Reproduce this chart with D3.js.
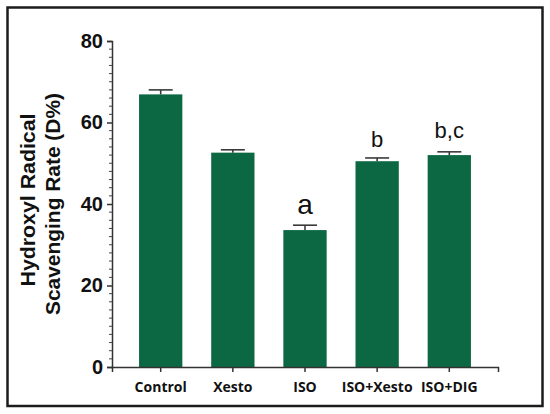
<!DOCTYPE html>
<html><head><meta charset="utf-8">
<script src="https://cdn.jsdelivr.net/npm/d3@7"></script>
<style>body{margin:0;background:#fff}</style>
</head><body>
<svg id="c" width="550" height="414"></svg>
<script>
const categories = ["Control", "Xesto", "ISO", "ISO+Xesto", "ISO+DIG"];
const values = [66.9, 52.6, 33.6, 50.5, 52.0];
const errors = [1.1, 0.7, 1.2, 0.8, 0.8];
const annotations = ["", "", "a", "b", "b,c"];
const yTicks = [0, 20, 40, 60, 80];

const svg = d3.select("#c");
const color = "#0c6842";

svg.append("rect").attr("x", 7.5).attr("y", 7.5).attr("width", 535).attr("height", 398.5)
  .attr("fill", "#fff").attr("stroke", "#1c1c1c").attr("stroke-width", 2.5);

const x = d3.scaleBand().domain(categories).range([112, 498]).paddingInner(0.4).paddingOuter(0.375);
const y = d3.scaleLinear().domain([0, 80]).range([367, 41]);

// bars
svg.append("g").selectAll("rect").data(categories).join("rect")
  .attr("x", d => x(d)).attr("width", x.bandwidth())
  .attr("y", (d, i) => y(values[i])).attr("height", (d, i) => y(0) - y(values[i]))
  .attr("fill", color);

// error bars
const eg = svg.append("g").attr("stroke", "#3a3a3a").attr("stroke-width", 1.6);
categories.forEach((c, i) => {
  const cx = x(c) + x.bandwidth() / 2;
  eg.append("line").attr("x1", cx).attr("x2", cx).attr("y1", y(values[i])).attr("y2", y(values[i] + errors[i]));
  eg.append("line").attr("x1", cx - 12).attr("x2", cx + 12).attr("y1", y(values[i] + errors[i])).attr("y2", y(values[i] + errors[i]));
});

// annotations
svg.append("g").selectAll("text").data(categories).join("text")
  .attr("x", d => x(d) + x.bandwidth() / 2)
  .attr("y", (d, i) => y(values[i] + errors[i]) - (annotations[i] === "b,c" ? 14 : 11))
  .attr("text-anchor", "middle")
  .style("font-family", "'Liberation Sans', Arial, sans-serif")
  .style("font-size", (d, i) => annotations[i] === "a" ? "28px" : "22px")
  .attr("fill", "#111")
  .text((d, i) => annotations[i]);

// y axis
const yAxis = svg.append("g").attr("transform", "translate(112,0)")
  .call(d3.axisLeft(y).tickValues(yTicks).tickSize(5).tickPadding(4));
yAxis.select(".domain").attr("stroke", "#333").attr("stroke-width", 1.5);
yAxis.selectAll(".tick line").attr("stroke", "#333").attr("stroke-width", 1.5);
yAxis.selectAll(".tick text").style("font-family", "'Liberation Sans', Arial, sans-serif")
  .style("font-weight", "bold").style("font-size", "20px").attr("fill", "#111");
const minor = d3.range(0, 81, 2).filter(v => v % 20 !== 0);
svg.append("g").selectAll("line").data(minor).join("line")
  .attr("x1", 109).attr("x2", 112).attr("y1", d => y(d)).attr("y2", d => y(d))
  .attr("stroke", "#444").attr("stroke-width", 1);

// x axis
const xAxis = svg.append("g").attr("transform", "translate(0,367)")
  .call(d3.axisBottom(x).tickSizeOuter(0).tickSize(5).tickPadding(10));
xAxis.select(".domain").attr("stroke", "#333").attr("stroke-width", 1.5);
xAxis.selectAll(".tick line").attr("stroke", "#333").attr("stroke-width", 1.5);
xAxis.selectAll(".tick text").style("font-family", "'Open Sans', sans-serif")
  .style("font-weight", "bold").style("font-size", "14px").attr("fill", "#111");

// y label
const lab = svg.append("g").style("font-family", "'Liberation Sans', Arial, sans-serif")
  .style("font-weight", "bold").style("font-size", "20px").attr("fill", "#111").attr("text-anchor", "middle");
lab.append("text").attr("transform", "translate(35,200) rotate(-90)")
  .attr("textLength", 173).attr("lengthAdjust", "spacingAndGlyphs").text("Hydroxyl Radical");
lab.append("text").attr("transform", "translate(60,204) rotate(-90)")
  .attr("textLength", 222).attr("lengthAdjust", "spacingAndGlyphs").text("Scavenging Rate (D%)");
</script>
</body></html>
